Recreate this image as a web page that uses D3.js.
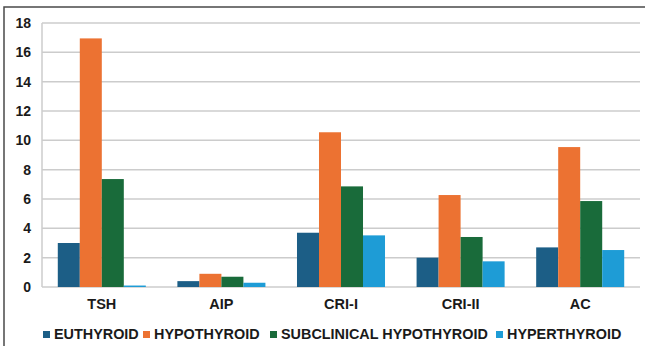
<!DOCTYPE html>
<html><head><meta charset="utf-8">
<script src="https://cdn.jsdelivr.net/npm/d3@7"></script>
<style>body{margin:0;background:#fff}svg{display:block}text{font-family:"Liberation Sans",Arial,sans-serif;font-weight:bold;fill:#1a1a1a}</style>
</head><body><svg id="c" width="645" height="346"></svg>
<script>
const categories = ["TSH","AIP","CRI-I","CRI-II","AC"];
const seriesNames = ["EUTHYROID","HYPOTHYROID","SUBCLINICAL HYPOTHYROID","HYPERTHYROID"];
const euthyroid = [3.0, 0.4, 3.7, 2.0, 2.7];
const hypothyroid = [16.95, 0.9, 10.55, 6.27, 9.54];
const subclinical = [7.36, 0.7, 6.86, 3.41, 5.86];
const hyperthyroid = [0.1, 0.29, 3.52, 1.75, 2.52];
const yTicks = [0,2,4,6,8,10,12,14,16,18];
const colors = ["#1c5e86","#ec7232","#196b3a","#1e9cd6"];
const series = [euthyroid, hypothyroid, subclinical, hyperthyroid];

const svg = d3.select("#c");
const L = 42, R = 640, T = 23, B = 287;
// frame
svg.append("path").attr("d","M4,346 V7 H645").attr("fill","none").attr("stroke","#4a4a4a").attr("stroke-width",1.5);

const x = d3.scaleBand().domain(categories).range([L,R]).paddingInner(0.264).paddingOuter(0.132);
const xs = d3.scaleBand().domain(seriesNames).range([0,x.bandwidth()]);
const y = d3.scaleLinear().domain([0,18]).range([B,T]);

// gridlines
svg.append("g").selectAll("line").data(yTicks).join("line")
  .attr("x1",L).attr("x2",R).attr("y1",d=>y(d)).attr("y2",d=>y(d))
  .attr("stroke","#cccccc").attr("stroke-width",1.5);
svg.append("line").attr("x1",L).attr("x2",L).attr("y1",T).attr("y2",B).attr("stroke","#cccccc").attr("stroke-width",1.5);

// y axis labels
const yAxis = d3.axisLeft(y).tickValues(yTicks).tickSize(0).tickPadding(0);
const gy = svg.append("g").attr("transform","translate(31,0)").call(yAxis);
gy.select(".domain").remove();
gy.selectAll("text").style("font-size","14px").attr("fill","#1a1a1a").style("font-family","Liberation Sans, Arial, sans-serif").style("font-weight","bold");

// bars
const g = svg.append("g");
series.forEach((vals,si)=>{
  g.append("g").selectAll("rect").data(vals).join("rect")
    .attr("x",(d,i)=>x(categories[i])+xs(seriesNames[si]))
    .attr("width",xs.bandwidth())
    .attr("y",d=>y(d)).attr("height",d=>B-y(d))
    .attr("fill",colors[si]);
});

// x axis
const xAxis = d3.axisBottom(x).tickSize(0).tickPadding(0);
const gx = svg.append("g").attr("transform","translate(0,299)").call(xAxis);
gx.select(".domain").remove();
gx.selectAll("text").style("font-size","14.5px").attr("fill","#1a1a1a").style("font-family","Liberation Sans, Arial, sans-serif").style("font-weight","bold").attr("dy","0.71em");

// legend
const legX = [43,143,270,496];
const lg = svg.append("g");
seriesNames.forEach((n,i)=>{
  lg.append("rect").attr("x",legX[i]).attr("y",331).attr("width",7).attr("height",7).attr("fill",colors[i]);
  lg.append("text").attr("x",legX[i]+11).attr("y",338.5).text(n).style("font-size","14.4px");
});
</script></body></html>
